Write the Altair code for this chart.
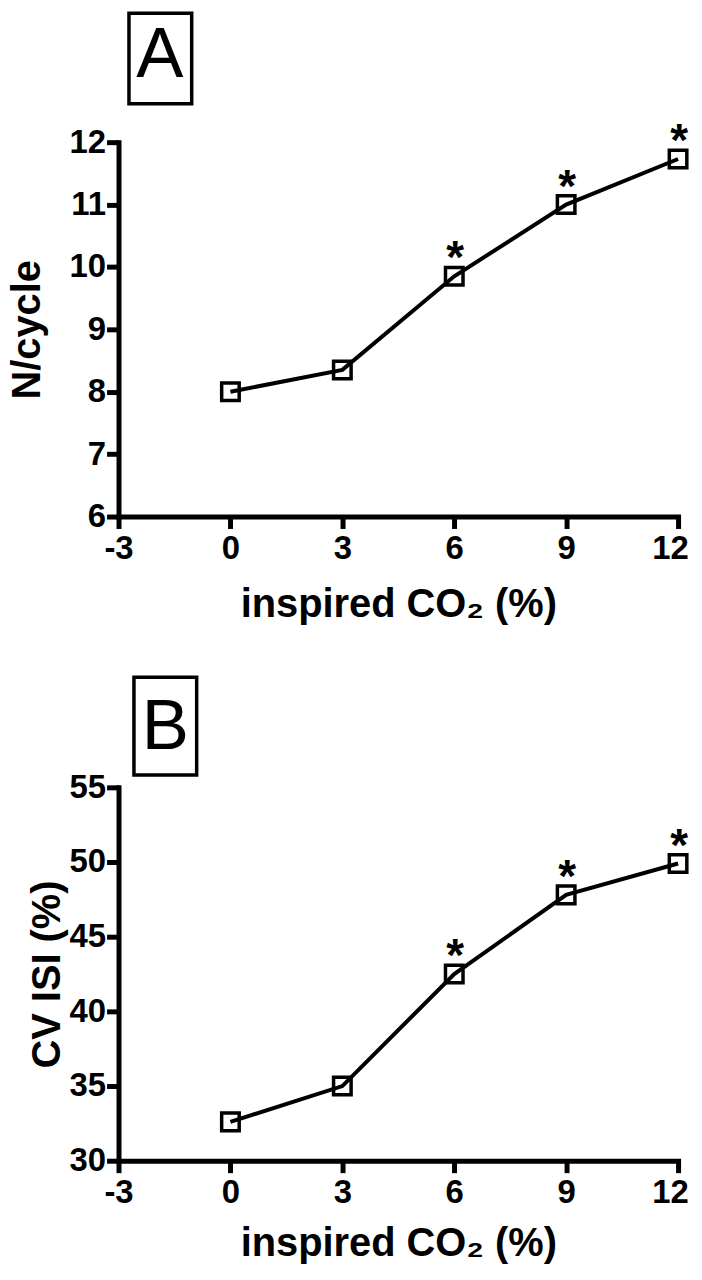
import altair as alt
import pandas as pd

co2 = [0, 3, 6, 9, 12]
n_cycle = [8.0, 8.35, 9.85, 11.0, 11.73]
cv_isi = [32.6, 35.0, 42.5, 47.8, 49.9]
sig = ["", "", "*", "*", "*"]
x_ticks = [-3, 0, 3, 6, 9, 12]
yA_ticks = [6, 7, 8, 9, 10, 11, 12]
yB_ticks = [30, 35, 40, 45, 50, 55]
panel_labels = ["A", "B"]
y_titles = ["N/cycle", "CV ISI (%)"]

FONT = "Liberation Sans"
W = 562


def panel(values, ydomain, yticks, ytitle, label, title_x, xtitle_y, height, box):
    df = pd.DataFrame({"co2": co2, "val": values, "sig": sig})
    x = alt.X(
        "co2:Q",
        scale=alt.Scale(domain=[-3, 12], nice=False, zero=False),
        axis=alt.Axis(
            values=x_ticks, title="inspired CO₂ (%)", labelFontSize=33,
            labelPadding=4, labelFlush=False, labelOverlap=False,
            labelExpr="datum.value",
            labelOffset={"condition": {"test": "datum.value == 12", "value": -8},
                         "value": 0},
            titleY=xtitle_y, titleBaseline="alphabetic",
        ),
    )
    y = alt.Y(
        "val:Q",
        scale=alt.Scale(domain=ydomain, nice=False, zero=False),
        axis=alt.Axis(
            values=yticks, title=ytitle, labelFontSize=33, labelPadding=1,
            titleX=title_x, titleY=height / 2, titleAngle=270,
            titleAlign="center", titleBaseline="alphabetic",
        ),
    )
    base = alt.Chart(df)
    line = base.mark_line(color="black", strokeWidth=4).encode(x=x, y=y)
    pts = base.mark_point(
        shape="square", size=310, filled=False, color="black",
        strokeWidth=3.5, opacity=1,
    ).encode(x=x, y=y)
    stars = base.mark_text(
        font=FONT, fontSize=46, fontWeight="bold", baseline="alphabetic",
        dx=1, dy=-3, color="black",
    ).encode(x=x, y=y, text="sig:N")

    ldf = pd.DataFrame({"label": [label]})
    bx0, bx1, by0, by1, tx, ty = box
    rect = alt.Chart(ldf).mark_rect(
        fillOpacity=0, stroke="black", strokeWidth=3.5
    ).encode(
        x=alt.value(bx0), x2=alt.value(bx1), y=alt.value(by0), y2=alt.value(by1)
    )
    ltxt = alt.Chart(ldf).mark_text(
        font=FONT, fontSize=71, align="center", baseline="alphabetic", color="black"
    ).encode(x=alt.value(tx), y=alt.value(ty), text="label:N")

    return alt.layer(line, pts, stars, rect, ltxt).properties(width=W, height=height)


A = panel(n_cycle, [6, 12], yA_ticks, y_titles[0], panel_labels[0], -79, 100, 376,
          (10.5, 73.5, -129.5, -38.5, 41.5, -65))
B = panel(cv_isi, [30, 55], yB_ticks, y_titles[1], panel_labels[1], -59, 95, 375,
          (15.5, 78.5, -110.5, -12.5, 47, -39))

chart = alt.vconcat(A, B, spacing=51).properties(padding=0).configure_view(
    stroke=None
).configure_axis(
    grid=False, domainColor="black", domainWidth=5, tickColor="black",
    tickWidth=5, tickSize=12, labelColor="black", titleColor="black",
    labelFont=FONT, titleFont=FONT, labelFontWeight="bold",
    titleFontWeight="bold", titleFontSize=40, domainCap="square",
)

chart.save("out.html", embed_options={"renderer": "svg", "actions": False})
